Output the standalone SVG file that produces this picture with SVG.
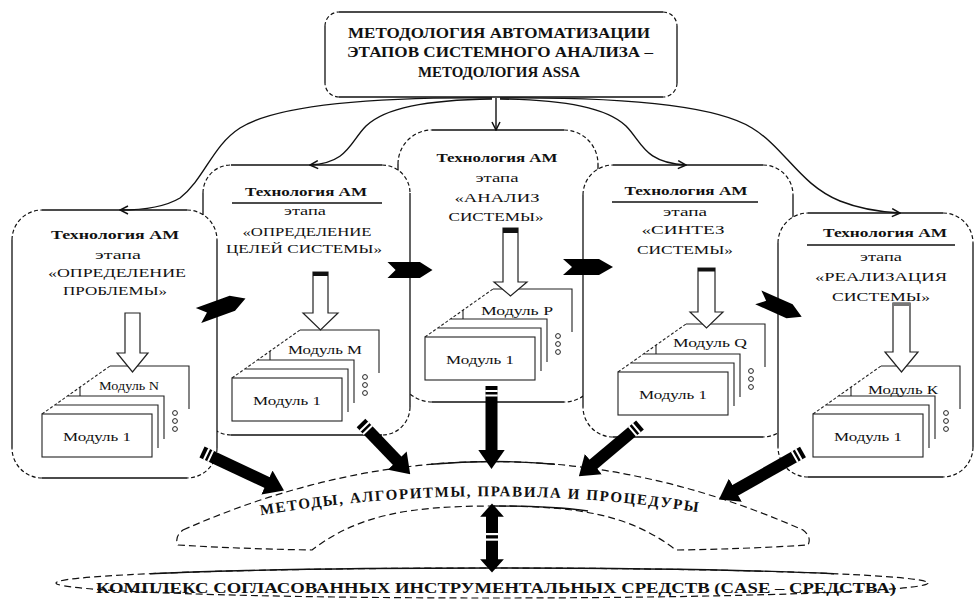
<svg xmlns="http://www.w3.org/2000/svg" width="976" height="599" viewBox="0 0 976 599">
<style>
  text{font-family:"Liberation Serif","DejaVu Serif",serif;fill:#111;text-anchor:middle}
  .t0{font-size:15px;font-weight:bold}
  .h{font-size:13.5px;font-weight:bold}
  .s{font-size:12.5px}
  .n{font-size:13.5px}
  .m{font-size:13px}
  .b{font-size:15px;font-weight:bold;letter-spacing:1.6px}
  .c{font-size:15px;font-weight:bold}
  .fill{fill:#fff;stroke:none}
  .edge{fill:none;stroke:#111;stroke-width:1.3}
  .corner{fill:none;stroke:#111;stroke-width:1.2;stroke-dasharray:4 2.5}
  .rule{fill:none;stroke:#111;stroke-width:1.7}
  .card{fill:#fff;stroke:#222;stroke-width:1.1}
  .cline{fill:none;stroke:#222;stroke-width:1.1}
  .dash{fill:none;stroke:#222;stroke-width:1.1;stroke-dasharray:3 2}
  .dot{fill:none;stroke:#222;stroke-width:1}
  .hollow{fill:#fff;stroke:#222;stroke-width:1.2}
  .cap{fill:#111}
  .flow{fill:none;stroke:#111;stroke-width:1.4;marker-end:url(#ah)}
  .thick{fill:none;stroke:#000;stroke-width:12;marker-end:url(#hd)}
  .thick2{fill:none;stroke:#000;stroke-width:12;marker-start:url(#hd2);marker-end:url(#hd2)}
  .stripe{fill:none;stroke:#fff;stroke-width:12.5;stroke-dasharray:0 4 2 2.5 2 999}
  .outline{fill:#fff;stroke:#111;stroke-width:1.2;stroke-dasharray:7 4}
  .solid{fill:none;stroke:#111;stroke-width:1.4}
</style>
<defs>
  <marker id="hd" viewBox="0 0 10 14" refX="0.5" refY="7" markerWidth="1.6" markerHeight="2.2" orient="auto" markerUnits="strokeWidth">
    <path d="M0,0 L10,7 L0,14 Z" fill="#000"/>
  </marker>
  <marker id="hd2" viewBox="0 0 10 18" refX="0.5" refY="9" markerWidth="1.1" markerHeight="2" orient="auto-start-reverse" markerUnits="strokeWidth">
    <path d="M0,0 L10,9 L0,18 Z" fill="#000"/>
  </marker>
  <marker id="ah" viewBox="0 0 10 10" refX="9" refY="5" markerWidth="10" markerHeight="10" orient="auto" markerUnits="userSpaceOnUse">
    <path d="M1,1 L9,5 L1,9" fill="none" stroke="#111" stroke-width="1.5"/>
  </marker>
  <!-- notched black block arrow, pointing along +x -->
  <path id="chev" d="M-25,-8 L11,-8 L25,0 L11,8 L-25,8 L-16,0 Z" fill="#000"/>
  <!-- stack of module cards; front card at the origin -->
  <g id="stack">
    <path class="fill" d="M38,-27 L68,-48 H147 V-5 H38 Z"/>
    <path class="cline" d="M68,-48 H147 V-5"/>
    <path class="cline" d="M38,-27 V-18"/>
    <path class="dash" d="M0,0 L68,-48"/>
    <rect class="fill" x="25.5" y="-18" width="96.5" height="43"/>
    <path class="cline" d="M25.5,-18 H122 V25"/>
    <rect class="fill" x="12.75" y="-9" width="103.25" height="43"/>
    <path class="cline" d="M12.75,-9 H116 V34"/>
    <rect class="card" x="0" y="0" width="110" height="43"/>
    <circle class="dot" cx="133" cy="-1" r="2.4"/>
    <circle class="dot" cx="133" cy="7" r="2.4"/>
    <circle class="dot" cx="133" cy="15" r="2.4"/>
  </g>
  <path id="arc" d="M250,517 Q480,477 710,514" fill="none"/>
</defs>

<rect x="0" y="0" width="976" height="599" fill="#fff"/>

<!-- methodology header -->
<g id="n-top">
  <rect class="fill" x="325" y="12" width="352" height="85" rx="14"/>
  <path class="edge" d="M339,12 H663 M677,26 V83 M663,97 H339 M325,83 V26"/>
  <path class="corner" d="M663,12 A14,14 0 0 1 677,26 M677,83 A14,14 0 0 1 663,97 M339,97 A14,14 0 0 1 325,83 M325,26 A14,14 0 0 1 339,12"/>
  <text class="t0" x="499" y="38" textLength="302" lengthAdjust="spacingAndGlyphs">МЕТОДОЛОГИЯ АВТОМАТИЗАЦИИ</text>
  <text class="t0" x="500" y="57" textLength="306" lengthAdjust="spacingAndGlyphs">ЭТАПОВ СИСТЕМНОГО АНАЛИЗА –</text>
  <text class="t0" x="499" y="77" textLength="162" lengthAdjust="spacingAndGlyphs">МЕТОДОЛОГИЯ ASSA</text>
</g>

<!-- stage: system analysis (drawn first, partly behind its neighbours) -->
<g id="n-analysis">
  <rect class="fill" x="398" y="130" width="200" height="272" rx="34"/>
  <path class="edge" d="M432,130 H564 M598,164 V368 M564,402 H432 M398,368 V164"/>
  <path class="corner" d="M564,130 A34,34 0 0 1 598,164 M598,368 A34,34 0 0 1 564,402 M432,402 A34,34 0 0 1 398,368 M398,164 A34,34 0 0 1 432,130"/>
  <text class="h" x="497" y="162" textLength="121" lengthAdjust="spacingAndGlyphs">Технология АМ</text>
  <text class="s" x="497" y="182" textLength="43" lengthAdjust="spacingAndGlyphs">этапа</text>
  <text class="n" x="497" y="202" textLength="85" lengthAdjust="spacingAndGlyphs">«АНАЛИЗ</text>
  <text class="n" x="496" y="221" textLength="95" lengthAdjust="spacingAndGlyphs">СИСТЕМЫ»</text>
  <g transform="translate(425,337)">
    <use href="#stack"/>
    <text class="m" x="55" y="27" textLength="68" lengthAdjust="spacingAndGlyphs">Модуль 1</text>
    <text class="m" x="92" y="-22" textLength="72" lengthAdjust="spacingAndGlyphs">Модуль Р</text>
  </g>
  <polygon class="hollow" points="503,228 518,228 518,282 527,282 510.5,296 494,282 503,282"/>
  <rect class="cap" x="503" y="228" width="15" height="5"/>
</g>

<!-- stage: system goals -->
<g id="n-goals">
  <rect class="fill" x="203" y="165" width="207" height="270" rx="28"/>
  <path class="edge" d="M231,165 H382 M410,193 V407 M382,435 H231 M203,407 V193"/>
  <path class="corner" d="M382,165 A28,28 0 0 1 410,193 M410,407 A28,28 0 0 1 382,435 M231,435 A28,28 0 0 1 203,407 M203,193 A28,28 0 0 1 231,165"/>
  <text class="h" x="306" y="196" textLength="122" lengthAdjust="spacingAndGlyphs">Технология АМ</text>
  <path class="rule" d="M232,203 H382"/>
  <text class="s" x="305" y="215" textLength="42" lengthAdjust="spacingAndGlyphs">этапа</text>
  <text class="n" x="307" y="236" textLength="129" lengthAdjust="spacingAndGlyphs">«ОПРЕДЕЛЕНИЕ</text>
  <text class="n" x="304" y="253" textLength="156" lengthAdjust="spacingAndGlyphs">ЦЕЛЕЙ СИСТЕМЫ»</text>
  <g transform="translate(232,378)">
    <use href="#stack"/>
    <text class="m" x="55" y="27" textLength="68" lengthAdjust="spacingAndGlyphs">Модуль 1</text>
    <text class="m" x="93" y="-24" textLength="74" lengthAdjust="spacingAndGlyphs">Модуль М</text>
  </g>
  <polygon class="hollow" points="313,272 328,272 328,313 338,313 320.5,330 303,313 313,313"/>
  <rect class="cap" x="313" y="272" width="15" height="4"/>
</g>

<!-- stage: system synthesis -->
<g id="n-synthesis">
  <rect class="fill" x="583" y="165" width="210" height="272" rx="30"/>
  <path class="edge" d="M613,165 H763 M793,195 V407 M763,437 H613 M583,407 V195"/>
  <path class="corner" d="M763,165 A30,30 0 0 1 793,195 M793,407 A30,30 0 0 1 763,437 M613,437 A30,30 0 0 1 583,407 M583,195 A30,30 0 0 1 613,165"/>
  <text class="h" x="686" y="195" textLength="123" lengthAdjust="spacingAndGlyphs">Технология АМ</text>
  <path class="rule" d="M612,202 H758"/>
  <text class="s" x="685" y="216" textLength="44" lengthAdjust="spacingAndGlyphs">этапа</text>
  <text class="n" x="683" y="234" textLength="83" lengthAdjust="spacingAndGlyphs">«СИНТЕЗ</text>
  <text class="n" x="685" y="254" textLength="96" lengthAdjust="spacingAndGlyphs">СИСТЕМЫ»</text>
  <g transform="translate(618,372)">
    <use href="#stack"/>
    <text class="m" x="55" y="27" textLength="68" lengthAdjust="spacingAndGlyphs">Модуль 1</text>
    <text class="m" x="92" y="-25" textLength="74" lengthAdjust="spacingAndGlyphs">Модуль Q</text>
  </g>
  <polygon class="hollow" points="698,268 715,268 715,312 723,312 706.5,328 690,312 698,312"/>
  <rect class="cap" x="698" y="268" width="17" height="3.5"/>
</g>

<!-- stage: problem definition -->
<g id="n-problem">
  <rect class="fill" x="12" y="210" width="205" height="268" rx="30"/>
  <path class="edge" d="M42,210 H187 M217,240 V448 M187,478 H42 M12,448 V240"/>
  <path class="corner" d="M187,210 A30,30 0 0 1 217,240 M217,448 A30,30 0 0 1 187,478 M42,478 A30,30 0 0 1 12,448 M12,240 A30,30 0 0 1 42,210"/>
  <text class="h" x="115" y="239" textLength="128" lengthAdjust="spacingAndGlyphs">Технология АМ</text>
  <text class="s" x="118" y="259" textLength="46" lengthAdjust="spacingAndGlyphs">этапа</text>
  <text class="n" x="117" y="277" textLength="138" lengthAdjust="spacingAndGlyphs">«ОПРЕДЕЛЕНИЕ</text>
  <text class="n" x="115" y="295" textLength="104" lengthAdjust="spacingAndGlyphs">ПРОБЛЕМЫ»</text>
  <g transform="translate(42,414)">
    <use href="#stack"/>
    <text class="m" x="55" y="27" textLength="68" lengthAdjust="spacingAndGlyphs">Модуль 1</text>
    <text class="m" x="87" y="-24" textLength="60" lengthAdjust="spacingAndGlyphs">Модуль N</text>
  </g>
  <polygon class="hollow" points="125,313 140,313 140,353 148,353 132.5,372 117,353 125,353"/>
</g>

<!-- stage: system implementation -->
<g id="n-implementation">
  <rect class="fill" x="778" y="213" width="195" height="264" rx="30"/>
  <path class="edge" d="M808,213 H943 M973,243 V447 M943,477 H808 M778,447 V243"/>
  <path class="corner" d="M943,213 A30,30 0 0 1 973,243 M973,447 A30,30 0 0 1 943,477 M808,477 A30,30 0 0 1 778,447 M778,243 A30,30 0 0 1 808,213"/>
  <text class="h" x="885" y="237" textLength="124" lengthAdjust="spacingAndGlyphs">Технология АМ</text>
  <path class="rule" d="M807,245 H955"/>
  <text class="s" x="881" y="261" textLength="42" lengthAdjust="spacingAndGlyphs">этапа</text>
  <text class="n" x="881" y="281" textLength="132" lengthAdjust="spacingAndGlyphs">«РЕАЛИЗАЦИЯ</text>
  <text class="n" x="881" y="301" textLength="98" lengthAdjust="spacingAndGlyphs">СИСТЕМЫ»</text>
  <g transform="translate(813,414)">
    <use href="#stack"/>
    <text class="m" x="55" y="27" textLength="68" lengthAdjust="spacingAndGlyphs">Модуль 1</text>
    <text class="m" x="90" y="-20" textLength="70" lengthAdjust="spacingAndGlyphs">Модуль К</text>
  </g>
  <polygon class="hollow" points="893,303 910,303 910,352 918,352 901.5,372 885,352 893,352"/>
  <rect x="893" y="303" width="17" height="3" fill="#777"/>
</g>

<!-- methods ribbon -->
<g id="n-methods">
  <path class="outline" d="M183,530 Q493,393 803,530 Q812,537 808,545 Q745,549 676,550 C630,515 580,506 494,506 C408,506 358,515 312,550 Q245,549 178,545 Q174,537 183,530 Z"/>
  <path class="solid" d="M431,464.2 Q493,458.8 555,464.2"/>
  <path class="solid" d="M494,506 C530,506 560,507 588,511"/>
  <text class="b"><textPath href="#arc" startOffset="50%">МЕТОДЫ, АЛГОРИТМЫ, ПРАВИЛА И ПРОЦЕДУРЫ</textPath></text>
</g>

<!-- CASE tools ellipse -->
<g id="n-case">
  <ellipse class="outline" cx="492" cy="583" rx="436" ry="15"/>
  <path class="solid" d="M150,573.7 A436,15 0 0 1 834,573.7"/>
  <text class="c" x="496" y="593" textLength="800" lengthAdjust="spacingAndGlyphs">КОМПЛЕКС СОГЛАСОВАННЫХ ИНСТРУМЕНТАЛЬНЫХ СРЕДСТВ (CASE – СРЕДСТВА)</text>
</g>

<g id="connectors">
  <!-- from the methodology to each stage -->
  <path class="flow" d="M496,98 V130"/>
  <path class="flow" d="M492,98 C372,97 277,105 240,128 C212,146 205,178 180,198 C165,207 145,210 120,210"/>
  <path class="flow" d="M492,99 C425,100 385,108 366,126 C350,142 348,163 310,165"/>
  <path class="flow" d="M500,99 C567,100 607,108 626,126 C642,142 644,163 686,165"/>
  <path class="flow" d="M500,98 C620,97 715,105 752,128 C785,148 800,185 840,201 C860,209 880,212 900,213"/>
  <!-- stage to stage -->
  <use href="#chev" transform="translate(222,307) rotate(-20)"/>
  <use href="#chev" transform="translate(410,270) scale(0.9,1)"/>
  <use href="#chev" transform="translate(588,267)"/>
  <use href="#chev" transform="translate(780,307) rotate(24) scale(0.95)"/>
  <!-- stages to methods -->
  <path class="thick" d="M202,452 L267.8,482.9"/>
  <path class="stripe" d="M202,452 L267.8,482.9"/>
  <path class="thick" d="M361,423 L397.8,461.3"/>
  <path class="stripe" d="M361,423 L397.8,461.3"/>
  <path class="thick" d="M491.5,386 L491.5,451"/>
  <path class="stripe" d="M491.5,386 L491.5,451"/>
  <path class="thick" d="M640,425 L592.6,464.8"/>
  <path class="stripe" d="M640,425 L592.6,464.8"/>
  <path class="thick" d="M803,452 L734.5,490.7"/>
  <path class="stripe" d="M803,452 L734.5,490.7"/>
  <!-- methods to CASE tools -->
  <path class="thick2" d="M492,516 V560"/>
  <rect x="486" y="533" width="12" height="2.2" fill="#fff"/>
  <rect x="486" y="538.5" width="12" height="2.2" fill="#fff"/>
</g>
</svg>
